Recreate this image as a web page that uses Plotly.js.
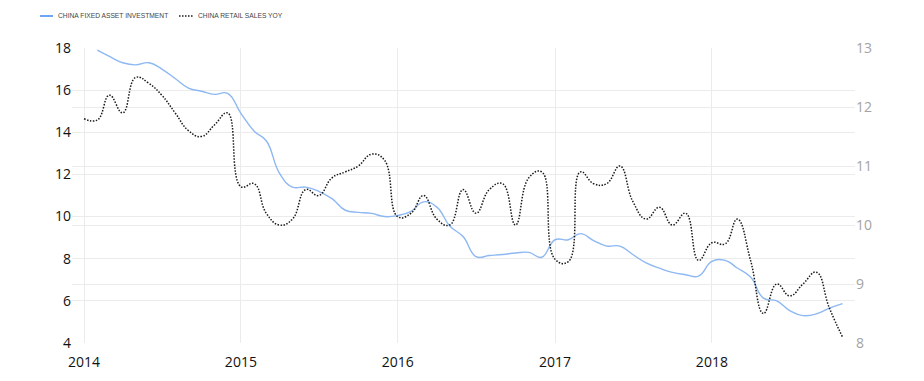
<!DOCTYPE html>
<html>
<head>
<meta charset="utf-8">
<script src="https://cdn.plot.ly/plotly-3.0.1.min.js"></script>
<style>
  html, body { margin: 0; padding: 0; background: #ffffff; }
  #chart { width: 924px; height: 381px; }
</style>
</head>
<body>
<div id="chart"></div>
<script>
// ---- data (monthly) ----
var months = [
  "2014-01-01","2014-02-01","2014-03-01","2014-04-01","2014-05-01","2014-06-01","2014-07-01","2014-08-01","2014-09-01","2014-10-01","2014-11-01","2014-12-01",
  "2015-01-01","2015-02-01","2015-03-01","2015-04-01","2015-05-01","2015-06-01","2015-07-01","2015-08-01","2015-09-01","2015-10-01","2015-11-01","2015-12-01",
  "2016-01-01","2016-02-01","2016-03-01","2016-04-01","2016-05-01","2016-06-01","2016-07-01","2016-08-01","2016-09-01","2016-10-01","2016-11-01","2016-12-01",
  "2017-01-01","2017-02-01","2017-03-01","2017-04-01","2017-05-01","2017-06-01","2017-07-01","2017-08-01","2017-09-01","2017-10-01","2017-11-01","2017-12-01",
  "2018-01-01","2018-02-01","2018-03-01","2018-04-01","2018-05-01","2018-06-01","2018-07-01","2018-08-01","2018-09-01","2018-10-01","2018-11-01"
];

var fixedAssetInvestment = [
  null, 17.9, 17.6, 17.3, 17.2, 17.3, 17.0, 16.55, 16.1, 15.95, 15.8, 15.85,
  14.9, 14.05, 13.6, 12.05, 11.4, 11.4, 11.2, 10.85, 10.3, 10.2, 10.15, 10.0,
  10.05, 10.25, 10.7, 10.45, 9.55, 9.05, 8.1, 8.15, 8.2, 8.27, 8.3, 8.07,
  8.9, 8.9, 9.19, 8.86, 8.6, 8.6, 8.2, 7.8, 7.55, 7.35, 7.24, 7.17,
  7.87, 7.92, 7.56, 7.13, 6.13, 6.0, 5.54, 5.3, 5.38, 5.65, 5.87
];

var retailSalesYoY = [
  11.8, 11.78, 12.2, 11.9, 12.5, 12.4, 12.2, 11.9, 11.6, 11.5, 11.7, 11.9,
  10.65, 10.7, 10.2, 10.0, 10.1, 10.6, 10.5, 10.8, 10.9, 11.0, 11.2, 11.1,
  10.14, 10.2, 10.5, 10.1, 10.0, 10.6, 10.2, 10.6, 10.7, 10.0, 10.8, 10.9,
  9.42, 9.38, 10.9, 10.7, 10.7, 11.0, 10.4, 10.1, 10.3, 10.0, 10.2, 9.4,
  9.7, 9.68, 10.1, 9.4, 8.5, 9.0, 8.8, 9.0, 9.2, 8.6, 8.1
];

var seriesNames = ["CHINA FIXED ASSET INVESTMENT", "CHINA RETAIL SALES YOY"];

var yearTickVals = ["2014-01-01","2015-01-01","2016-01-01","2017-01-01","2018-01-01"];
var yearTickText = ["2014","2015","2016","2017","2018"];

var leftTicks = [4, 6, 8, 10, 12, 14, 16, 18];
var rightTicks = [8, 9, 10, 11, 12, 13];

// ---- styling ----
var blue = "#8db8f2";
var black = "#1a1a1a";
var grid = "#ebebeb";
var tickFont = "Open Sans, Noto Sans, DejaVu Sans, sans-serif";

// plot-area geometry (px) for placing the hand-made legend
var W = 924, H = 381;
var mL = 72, mR = 69, mT = 48, mB = 38;
var pw = W - mL - mR, ph = H - mT - mB;
function px2x(px) { return (px - mL) / pw; }
function py2y(py) { return (H - mB - py) / ph; }

var traces = [
  {
    x: months, y: fixedAssetInvestment, name: seriesNames[0],
    type: "scatter", mode: "lines", yaxis: "y",
    line: { color: blue, width: 1.4, shape: "spline", smoothing: 1.3 },
    connectgaps: false, hoverinfo: "x+y"
  },
  {
    x: months, y: retailSalesYoY, name: seriesNames[1],
    type: "scatter", mode: "lines", yaxis: "y2",
    line: { color: black, width: 1.5, dash: "1.5px,1.5px", shape: "spline", smoothing: 1.3 },
    hoverinfo: "x+y"
  }
];

var legY = py2y(16);
var legendFont = { family: "Liberation Sans, Arial, sans-serif", size: 6.7, color: "#444" };

var layout = {
  width: W, height: H,
  margin: { l: mL, r: mR, t: mT, b: mB, pad: 0 },
  paper_bgcolor: "#ffffff", plot_bgcolor: "#ffffff",
  showlegend: false,
  xaxis: {
    type: "date",
    range: ["2013-12-04", "2018-11-30"],
    tickmode: "array", tickvals: yearTickVals, ticktext: yearTickText,
    showgrid: true, gridcolor: grid, gridwidth: 1,
    zeroline: false, showline: false, ticks: "",
    ticklabelstandoff: 9,
    tickfont: { family: tickFont, size: 14, color: "#111" },
    fixedrange: true
  },
  yaxis: {
    range: [4, 18], tickmode: "array", tickvals: leftTicks,
    showgrid: true, gridcolor: grid, gridwidth: 1,
    zeroline: false, showline: false, ticks: "",
    tickfont: { family: tickFont, size: 14, color: "#111" },
    fixedrange: true
  },
  yaxis2: {
    range: [8, 13], tickmode: "array", tickvals: rightTicks,
    overlaying: "y", side: "right",
    showgrid: true, gridcolor: grid, gridwidth: 1,
    zeroline: false, showline: false, ticks: "",
    tickfont: { family: tickFont, size: 14, color: "#a3a3a3" },
    fixedrange: true
  },
  shapes: [
    { type: "line", xref: "paper", yref: "paper",
      x0: px2x(40), x1: px2x(53), y0: legY, y1: legY,
      line: { color: "#4a90f0", width: 1.6 } },
    { type: "line", xref: "paper", yref: "paper",
      x0: px2x(179), x1: px2x(193), y0: legY, y1: legY,
      line: { color: black, width: 1.4, dash: "1.5px,1.5px" } }
  ],
  annotations: [
    { xref: "paper", yref: "paper", x: px2x(56), y: legY,
      xanchor: "left", yanchor: "middle", showarrow: false,
      text: seriesNames[0], font: legendFont },
    { xref: "paper", yref: "paper", x: px2x(196), y: legY,
      xanchor: "left", yanchor: "middle", showarrow: false,
      text: seriesNames[1], font: legendFont }
  ]
};

Plotly.newPlot("chart", traces, layout, { displayModeBar: false, staticPlot: true });
</script>
</body>
</html>
